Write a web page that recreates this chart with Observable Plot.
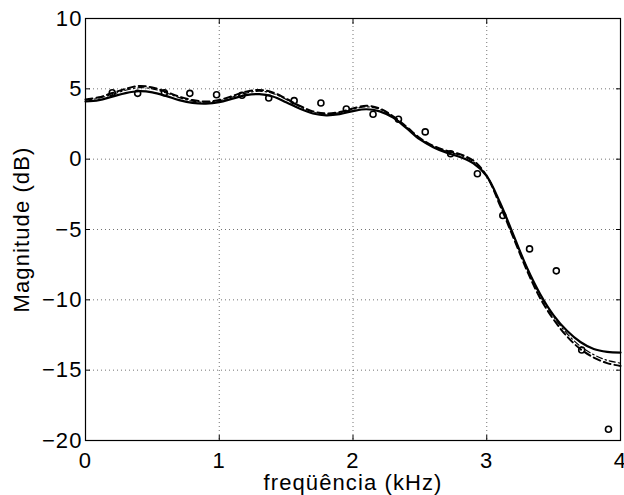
<!DOCTYPE html>
<html><head><meta charset="utf-8">
<script src="https://cdn.jsdelivr.net/npm/d3@7"></script>
<script src="https://cdn.jsdelivr.net/npm/@observablehq/plot@0.6"></script>
<style>body{margin:0;background:#fff}</style>
</head><body><div id="chart"></div>
<script>
const freq = [0,0.1,0.2,0.3,0.4,0.5,0.6,0.7,0.8,0.9,1.0,1.1,1.2,1.3,1.4,1.5,1.6,1.7,1.8,1.9,2.0,2.1,2.2,2.3,2.4,2.5,2.6,2.7,2.8,2.9,3.0,3.1,3.2,3.3,3.4,3.5,3.6,3.7,3.8,3.9,4.0];
const solid = [4.10,4.20,4.45,4.70,4.83,4.75,4.50,4.20,4.00,3.95,4.05,4.30,4.55,4.62,4.45,4.05,3.60,3.25,3.12,3.20,3.42,3.55,3.40,2.95,2.20,1.40,0.85,0.45,0.15,-0.30,-1.20,-3.10,-5.40,-7.70,-9.60,-11.10,-12.20,-13.00,-13.50,-13.70,-13.75];
const dashed = [4.25,4.40,4.70,5.00,5.20,5.10,4.80,4.45,4.20,4.10,4.20,4.50,4.80,4.92,4.75,4.30,3.80,3.40,3.25,3.35,3.60,3.80,3.60,3.05,2.30,1.50,0.95,0.60,0.35,-0.10,-1.20,-3.30,-5.60,-7.90,-9.90,-11.40,-12.60,-13.50,-14.10,-14.50,-14.70];
const dashdot = [4.20,4.33,4.60,4.90,5.08,5.00,4.72,4.38,4.12,4.05,4.15,4.42,4.70,4.83,4.68,4.25,3.75,3.35,3.20,3.30,3.55,3.72,3.55,3.02,2.28,1.48,0.92,0.55,0.28,-0.18,-1.22,-3.20,-5.45,-7.70,-9.70,-11.20,-12.40,-13.30,-13.90,-14.30,-14.50];
const markerFreq = [0.20,0.39,0.59,0.78,0.98,1.17,1.37,1.56,1.76,1.95,2.15,2.34,2.54,2.73,2.93,3.12,3.32,3.52,3.71,3.91];
const markerDb = [4.72,4.68,4.72,4.68,4.58,4.54,4.35,4.16,3.99,3.57,3.19,2.84,1.94,0.38,-1.04,-4.00,-6.38,-7.94,-13.57,-19.20];
const xTicks = [0,1,2,3,4];
const yTicks = [-20,-15,-10,-5,0,5,10];

const curve = (vals) => freq.map((f, i) => ({f, v: vals[i]}));
const markers = markerFreq.map((f, i) => ({f, v: markerDb[i]}));

const chart = Plot.plot({
  width: 624, height: 495,
  marginLeft: 85, marginRight: 4, marginTop: 18, marginBottom: 55,
  style: {fontFamily: "Liberation Sans, Arial, sans-serif", fontSize: "22px", letterSpacing: "1.1px", background: "#fff", color: "#000"},
  x: {domain: [0, 4]},
  y: {domain: [-20, 10]},
  marks: [
    Plot.gridX(xTicks, {stroke: "#000", strokeOpacity: 0.55, strokeDasharray: "1,3"}),
    Plot.gridY(yTicks, {stroke: "#000", strokeOpacity: 0.55, strokeDasharray: "1,3"}),
    Plot.line(curve(dashdot), {x: "f", y: "v", stroke: "#000", strokeWidth: 1.2, strokeDasharray: "6,3,1.5,3", curve: "catmull-rom"}),
    Plot.line(curve(dashed), {x: "f", y: "v", stroke: "#000", strokeWidth: 2, strokeDasharray: "7,4", curve: "catmull-rom"}),
    Plot.line(curve(solid), {x: "f", y: "v", stroke: "#000", strokeWidth: 2.2, curve: "catmull-rom"}),
    Plot.dot(markers, {x: "f", y: "v", r: 3, stroke: "#000", strokeWidth: 1.6, fill: "none"}),
    Plot.frame({stroke: "#000", strokeWidth: 1.2}),
    Plot.axisX(xTicks, {anchor: "bottom", tickSize: -5, tickPadding: 17, tickFormat: d => String(d), label: "freqüência (kHz)", labelAnchor: "center", labelOffset: 49, labelArrow: "none"}),
    Plot.axisX(xTicks, {anchor: "top", tickSize: -5, tickFormat: () => "", label: null}),
    Plot.axisY(yTicks, {anchor: "left", tickSize: -5, tickPadding: 8, label: "Magnitude (dB)", labelAnchor: "center", labelOffset: 72, labelArrow: "none"}),
    Plot.axisY(yTicks, {anchor: "right", tickSize: -5, tickFormat: () => "", label: null})
  ]
});
document.getElementById("chart").appendChild(chart);
</script>
</body></html>
